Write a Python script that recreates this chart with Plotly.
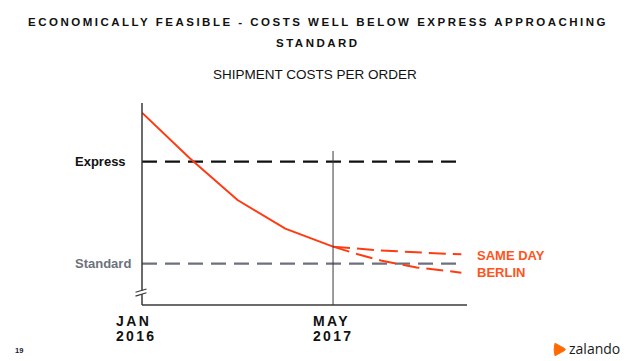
import plotly.graph_objects as go

# ---- data (relative cost index: Standard = 1, Express = 2) ----
months_actual = [0, 4, 8, 12, 16]
cost_actual = [2.48, 2.034, 1.624, 1.343, 1.167]
months_upper = [16, 20, 24, 26.75]
cost_upper = [1.167, 1.130, 1.105, 1.092]
months_lower = [16, 18, 20, 23, 26.75]
cost_lower = [1.167, 1.095, 1.031, 0.963, 0.912]
benchmark_names = ["Express", "Standard"]
benchmark_values = [2.0, 1.0]
benchmark_months = [0, 26.75]
x_tick_months = [0, 16]
x_tick_labels = [["JAN", "2016"], ["MAY", "2017"]]
forecast_label = "SAME DAY<br>BERLIN"

RED = "#FF3B12"
RED_TXT = "#FF5420"
GREY = "#6D717E"
AX = "#3a3a3a"

L, R, T, B = 142, 467, 103, 305
W, H = 640, 361
def px(x):
    return (x - L) / (R - L)
def py(y):
    return (B - y) / (B - T)

XR = [0, 27.22]
YR = [0.595, 2.5755]

fig = go.Figure()
fig.add_trace(go.Scatter(x=benchmark_months, y=[benchmark_values[0]] * 2, mode="lines",
                         line=dict(color="#111111", width=2.2, dash="15px,8px"),
                         cliponaxis=False, hoverinfo="skip"))
fig.add_trace(go.Scatter(x=benchmark_months, y=[benchmark_values[1]] * 2, mode="lines",
                         line=dict(color=GREY, width=2.2, dash="15px,8px"),
                         cliponaxis=False, hoverinfo="skip"))
fig.add_trace(go.Scatter(x=months_upper, y=cost_upper, mode="lines",
                         line=dict(color=RED, width=2, dash="17px,7px"),
                         cliponaxis=False))
fig.add_trace(go.Scatter(x=months_lower, y=cost_lower, mode="lines",
                         line=dict(color=RED, width=2, dash="17px,7px"),
                         cliponaxis=False))
fig.add_trace(go.Scatter(x=months_actual, y=cost_actual, mode="lines",
                         line=dict(color=RED, width=2), cliponaxis=False))

shapes = []
# axes drawn with a break on the y axis
brk_lo, brk_hi = py(294.2), py(290.4)
shapes.append(dict(type="line", xref="paper", yref="paper", x0=0, x1=0, y0=brk_hi, y1=1,
                   line=dict(color=AX, width=1.5)))
shapes.append(dict(type="line", xref="paper", yref="paper", x0=0, x1=0, y0=0, y1=brk_lo,
                   line=dict(color=AX, width=1.5)))
shapes.append(dict(type="line", xref="paper", yref="paper", x0=0, x1=1, y0=0, y1=0,
                   line=dict(color=AX, width=1.5)))
for off in (0, 3.8):
    shapes.append(dict(type="line", xref="paper", yref="paper",
                       x0=px(135.5), y0=py(292.3 + off), x1=px(146.5), y1=py(289 + off),
                       line=dict(color=AX, width=1.2)))
# vertical marker at May 2017
shapes.append(dict(type="line", xref="x", yref="paper", x0=x_tick_months[1], x1=x_tick_months[1],
                   y0=0, y1=py(151), line=dict(color=AX, width=1)))
# zalando logo mark
logo = ("M {0},{1} Q {2},{3} {0},{4} L {5},{6} Q {7},{8} {5},{9} Z").format(
    px(555), py(343.3), px(553.2), py(349.5), py(355.7),
    px(564.5), py(350.6), px(566.3), py(349.5), py(348.4))
shapes.append(dict(type="path", xref="paper", yref="paper", path=logo,
                   fillcolor="#FF6A00", line=dict(color="#FF6A00", width=1)))

ann = []
ann.append(dict(text="ECONOMICALLY FEASIBLE - COSTS WELL BELOW EXPRESS APPROACHING",
                xref="paper", yref="paper", x=px(317.6), y=py(21.5), xanchor="center",
                yanchor="middle", showarrow=False,
                font=dict(family="Liberation Sans", size=11.5, color="#111111", weight="bold")))
ann.append(dict(text="STANDARD", xref="paper", yref="paper", x=px(317.8), y=py(43),
                xanchor="center", yanchor="middle", showarrow=False,
                font=dict(family="Liberation Sans", size=11.5, color="#111111", weight="bold")))
ann.append(dict(text="SHIPMENT COSTS PER ORDER", xref="paper", yref="paper", x=px(314.5), y=py(74.3),
                xanchor="center", yanchor="middle", showarrow=False,
                font=dict(family="Liberation Sans", size=13.5, color="#111111")))
ann.append(dict(text=benchmark_names[0], xref="paper", yref="y", x=px(73), y=benchmark_values[0],
                xanchor="left", yanchor="middle", showarrow=False, align="left",
                font=dict(family="Liberation Sans", size=13, color="#111111", weight="bold")))
ann.append(dict(text=benchmark_names[1], xref="paper", yref="y", x=px(73), y=benchmark_values[1],
                xanchor="left", yanchor="middle", showarrow=False, align="left",
                font=dict(family="Liberation Sans", size=13, color=GREY, weight="bold")))
ann.append(dict(text=forecast_label, xref="paper", yref="y", x=px(475), y=benchmark_values[1],
                xanchor="left", yanchor="middle", showarrow=False, align="left",
                font=dict(family="Liberation Sans", size=13, color=RED_TXT, weight="bold")))
tick_left_px = [114, 311]
for m, lab, lp in zip(x_tick_months, x_tick_labels, tick_left_px):
    for line_txt, yy in zip(lab, (321, 336.3)):
        ann.append(dict(text=line_txt, xref="paper", yref="paper", x=px(lp), y=py(yy),
                        xanchor="left", yanchor="middle", showarrow=False, align="left",
                        font=dict(family="Liberation Sans", size=14, color="#111111", weight="bold")))
ann.append(dict(text="19", xref="paper", yref="paper", x=px(12.5), y=py(350),
                xanchor="left", yanchor="middle", showarrow=False,
                font=dict(family="Liberation Sans", size=7.5, color="#1a1a33", weight="bold")))
ann.append(dict(text="zalando", xref="paper", yref="paper", x=px(566.5), y=py(348.5),
                xanchor="left", yanchor="middle", showarrow=False,
                font=dict(family="Open Sans", size=14, color="#1b1b1b")))

fig.update_layout(
    width=W, height=H, margin=dict(l=L, r=W - R, t=T, b=H - B),
    paper_bgcolor="white", plot_bgcolor="white", showlegend=False,
    xaxis=dict(range=XR, visible=False, fixedrange=True),
    yaxis=dict(range=YR, visible=False, fixedrange=True),
    shapes=shapes, annotations=ann,
)

post = """
document.body.style.margin = '0';
document.body.style.padding = '0';
document.body.style.overflow = 'hidden';
var gd = document.getElementById('{plot_id}');
var sp = {'ECONOMICALLY FEASIBLE - COSTS WELL BELOW EXPRESS APPROACHING': '2.5px',
          'STANDARD': '2.5px', 'JAN': '2.4px', '2016': '2.3px', 'MAY': '2.4px', '2017': '2.3px'};
function applyLS(){
  gd.querySelectorAll('text.annotation-text').forEach(function(t){
    var k = t.textContent;
    if (sp[k]) { t.style.letterSpacing = sp[k]; }
  });
}
applyLS();
gd.on('plotly_afterplot', applyLS);
"""
fig.write_html("out.html", post_script=post, config={"displayModeBar": False})
